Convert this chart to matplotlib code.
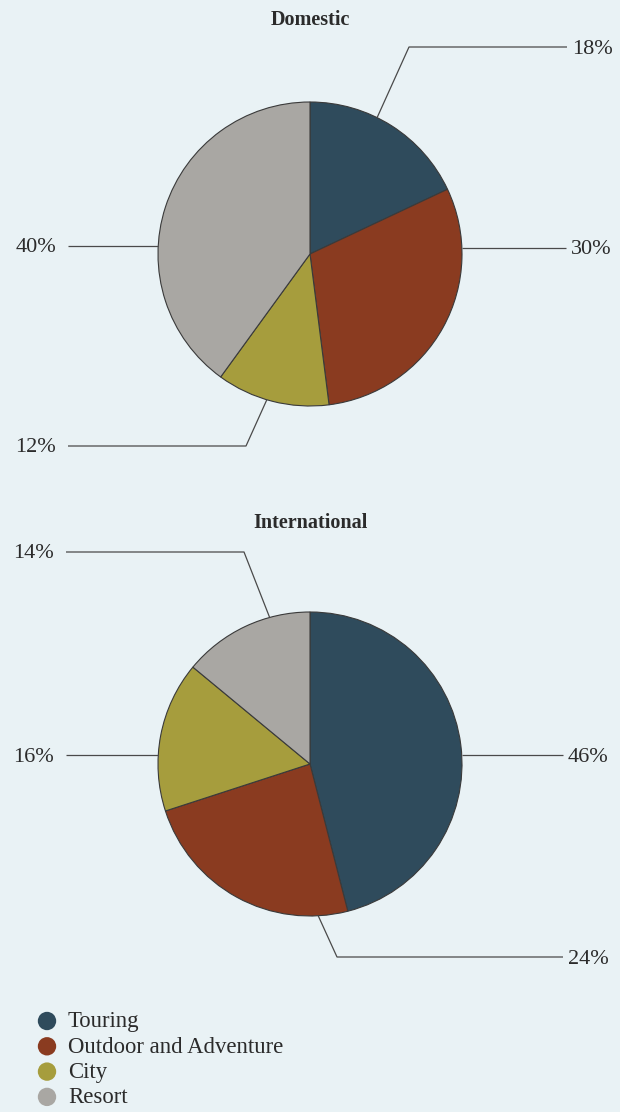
import numpy as np
import matplotlib.pyplot as plt

plt.rcParams['font.family'] = ['Liberation Serif', 'DejaVu Serif']

# Trip categories and shares (%)
categories = ["Touring", "Outdoor and Adventure", "City", "Resort"]
domestic = [18, 30, 12, 40]
international = [46, 24, 16, 14]
colors = ["#2f4b5c", "#8a3b20", "#a69d3d", "#a9a7a3"]

BG = "#e9f2f5"
INK = "#2b2b2b"
LINE = "#4a4a4a"

fig = plt.figure(figsize=(6.2, 11.12), dpi=100, facecolor=BG)
ax = fig.add_axes([0, 0, 1, 1])
ax.set_facecolor(BG)

R = 152

# Leader-line layout per slice: (anchor angle clockwise from 12 o'clock,
# elbow point or None for straight horizontal, line y, line end x, side)
dom_layout = [
    dict(ang=26.2, elbow=(409, 47), y=47, end=567, side="r"),
    dict(ang=None, elbow=None, y=248, end=566, side="r"),
    dict(ang=196.5, elbow=(246, 446), y=446, end=68, side="l"),
    dict(ang=None, elbow=None, y=246, end=68, side="l"),
]
int_layout = [
    dict(ang=None, elbow=None, y=755, end=563, side="r"),
    dict(ang=176.9, elbow=(337, 957), y=957, end=563, side="r"),
    dict(ang=None, elbow=None, y=755, end=66, side="l"),
    dict(ang=344.6, elbow=(244, 552), y=552, end=66, side="l"),
]


def draw_pie(values, center, title, title_y, layout):
    cx, cy = center
    # y axis runs downward, so counterclock in data space is clockwise on screen
    ax.pie(values, colors=colors, startangle=-90, counterclock=True,
           center=center, radius=R, frame=True,
           wedgeprops=dict(edgecolor="#3a3a3a", linewidth=0.8))
    ax.text(cx, title_y, title, ha="center", va="center",
            fontsize=14.5, fontweight="bold", color=INK)
    for v, lay in zip(values, layout):
        if lay["elbow"] is not None:
            a = np.deg2rad(lay["ang"])
            sx, sy = cx + R * np.sin(a), cy - R * np.cos(a)
            ex, ey = lay["elbow"]
            xs = [sx, ex, lay["end"]]
            ys = [sy, ey, ey]
            ly = ey
        else:
            ly = lay["y"]
            half = np.sqrt(R ** 2 - (ly - cy) ** 2)
            sx = cx + half if lay["side"] == "r" else cx - half
            xs = [sx, lay["end"]]
            ys = [ly, ly]
        ax.plot(xs, ys, color=LINE, lw=0.9, solid_capstyle="butt")
        if lay["side"] == "r":
            ax.text(lay["end"] + 5, ly + 2, f"{v}%", ha="left", va="center",
                    fontsize=16, color=INK)
        else:
            ax.text(lay["end"] - 12, ly + 2, f"{v}%", ha="right", va="center",
                    fontsize=16, color=INK)


draw_pie(domestic, (310, 254), "Domestic", 20, dom_layout)
draw_pie(international, (310, 764), "International", 523, int_layout)

# Legend
for i, (name, c) in enumerate(zip(categories, colors)):
    y = 1021 + i * 25.3
    ax.scatter([47], [y], s=175, color=c, edgecolors="none", zorder=3)
    ax.text(68, y + 1, name, ha="left", va="center", fontsize=16.4, color=INK)

ax.set_xlim(0, 620)
ax.set_ylim(1112, 0)
ax.set_aspect("equal")
ax.axis("off")

fig.savefig("out.png", dpi=100, facecolor=BG)
